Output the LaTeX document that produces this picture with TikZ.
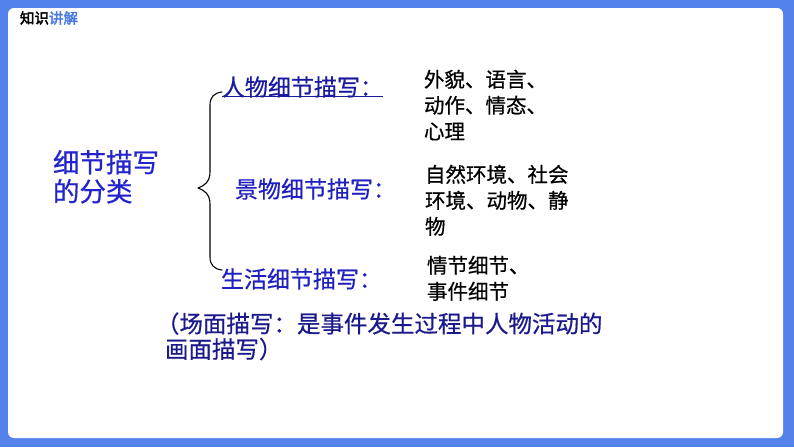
\documentclass[tikz,border=0pt]{standalone}
\usepackage{fontspec}
\newfontfamily\cjk[FakeBold=0.6]{Noto Sans CJK SC}
\newfontfamily\cjkb[FakeBold=2.5]{Noto Sans CJK SC}
\definecolor{framebl}{RGB}{84,130,235}
\definecolor{titlebl}{RGB}{74,122,224}
\definecolor{headbl}{RGB}{36,36,205}
\definecolor{catbl}{RGB}{32,32,192}
\definecolor{linkbl}{RGB}{26,26,160}
\definecolor{notebl}{RGB}{26,26,140}
\tikzset{
  txt/.style={inner sep=0pt, outer sep=0pt, align=left},
  cat/.style={txt, anchor=west, font=\cjk\fontsize{23}{25}\selectfont, text=catbl},
  detail/.style={txt, anchor=north west, font=\cjk\fontsize{20.5}{26}\selectfont, text=black},
  bracel/.style={draw=black, line width=1.1pt, line cap=round, line join=round},
}
\begin{document}
\begin{tikzpicture}[x=1pt,y=-1pt]
\useasboundingbox (0,0) rectangle (794,447);
\fill[framebl] (0,0) rectangle (794,447);
\fill[white, rounded corners=6pt] (8,8) rectangle (783,438);
% title
\node[txt, anchor=west, font=\cjkb\fontsize{14.5}{16}\selectfont] (title) at (20,18)
  {知识\textcolor{titlebl}{讲解}};
% main heading
\node[txt, anchor=north west, font=\cjk\fontsize{26.5}{29}\selectfont, text=headbl] (head) at (53,150)
  {细节描写\\的分类};
% brace
\coordinate (btop) at (222,92);
\coordinate (btip) at (198,188);
\coordinate (bbot) at (222,270);
\draw[bracel] (btop) .. controls (214,93) and (210,97) .. (210,105) -- (210,172)
  .. controls (210,182) and (204,186) .. (btip)
  .. controls (204,190) and (210,194) .. (210,204) -- (210,257)
  .. controls (210,265) and (214,269) .. (bbot);
% categories
\node[cat, text=linkbl] (c1) at (222,87) {人物细节描写：};
\draw[linkbl, line width=1.1pt] ([yshift=1pt]c1.south west) -- ([yshift=1pt]c1.south east);
\node[cat] (c2) at (235,189) {景物细节描写：};
\node[cat] (c3) at (221,279) {生活细节描写：};
% details
\node[detail] (d1) at (424,69.8) {外貌、语言、\\动作、情态、\\心理};
\node[detail] (d2) at (425,164.8) {自然环境、社会\\环境、动物、静\\物};
\node[detail] (d3) at (427,255.8) {情节细节、\\事件细节};
% note
\node[txt, anchor=north west, font=\cjk\fontsize{23.5}{25.5}\selectfont, text=notebl] (note) at (156,312.4)
  {（场面描写：是事件发生过程中人物活动的\\\hspace*{9pt}画面描写）};
\end{tikzpicture}
\end{document}
